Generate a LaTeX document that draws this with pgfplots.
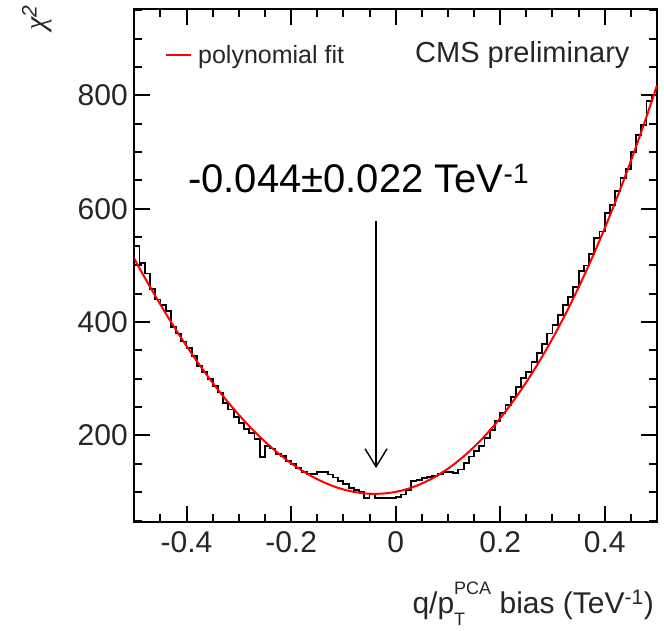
\documentclass[border=0pt]{standalone}
\usepackage{fontspec}
\setmainfont{Liberation Sans}
\usepackage{pgfplots}
\pgfplotsset{compat=1.18}
\usetikzlibrary{arrows.meta}
\begin{document}
\begin{tikzpicture}
\useasboundingbox (-134.3pt,-108pt) rectangle (529.7pt,522.2pt);
\begin{axis}[
  at={(0pt,0pt)}, anchor=south west,
  scale only axis, width=522.7pt, height=512.9pt,
  xmin=-0.5, xmax=0.5, ymin=47, ymax=952,
  axis line style={line width=2pt},
  every tick/.style={line width=2pt, black},
  major tick length=16pt, minor tick length=8pt,
  xtick={-0.6,-0.4,-0.2,0,0.2,0.4,0.6},
  minor x tick num=3,
  ytick={0,200,400,600,800,1000},
  minor y tick num=3,
  /pgf/number format/assume math mode=true,
  tick label style={font=\fontsize{30}{36}\selectfont, text=black!85},
  xticklabel style={yshift=-6pt},
  yticklabel style={xshift=-3pt},
  legend style={at={(axis description cs:0.0587,0.9105)}, anchor=west, draw=none, fill=none, inner sep=0pt, font=\fontsize{25}{30}\selectfont, text=black!85},
  legend image code/.code={\draw[#1] (0pt,0pt) -- (25pt,0pt); \path (29pt,0pt);},
]
\addplot[const plot, black, line width=1.8pt, forget plot] coordinates {
(-0.50,534) (-0.49,505) (-0.48,486) (-0.47,458) (-0.46,440) (-0.45,430) (-0.44,420) (-0.43,392) (-0.42,380) (-0.41,366)
(-0.40,355) (-0.39,340) (-0.38,322) (-0.37,312) (-0.36,300) (-0.35,288) (-0.34,276) (-0.33,258) (-0.32,246) (-0.31,232)
(-0.30,222) (-0.29,212) (-0.28,204) (-0.27,194) (-0.26,162) (-0.25,181) (-0.24,177) (-0.23,168) (-0.22,164) (-0.21,155)
(-0.20,149) (-0.19,143) (-0.18,136) (-0.17,132) (-0.16,132) (-0.15,135) (-0.14,135) (-0.13,131) (-0.12,126) (-0.11,120)
(-0.10,114) (-0.09,108) (-0.08,104) (-0.07,100) (-0.06,89) (-0.05,97) (-0.04,89) (-0.03,89) (-0.02,89) (-0.01,89)
(0.00,91) (0.01,96) (0.02,104) (0.03,119) (0.04,121) (0.05,125) (0.06,127) (0.07,129) (0.08,132) (0.09,135)
(0.10,136) (0.11,134) (0.12,140) (0.13,152) (0.14,163) (0.15,172) (0.16,182) (0.17,196) (0.18,210) (0.19,226)
(0.20,240) (0.21,254) (0.22,268) (0.23,285) (0.24,302) (0.25,312) (0.26,330) (0.27,345) (0.28,362) (0.29,380)
(0.30,395) (0.31,412) (0.32,430) (0.33,445) (0.34,462) (0.35,490) (0.36,500) (0.37,520) (0.38,548) (0.39,560)
(0.40,592) (0.41,606) (0.42,632) (0.43,655) (0.44,670) (0.45,700) (0.46,730) (0.47,748) (0.48,790) (0.49,800)
(0.50,800)
};
\addplot[red, line width=2pt] coordinates {
(-0.500,511.9) (-0.495,503.4) (-0.485,486.8) (-0.475,470.4) (-0.465,454.4) (-0.455,438.6) (-0.445,423.2) (-0.435,408.1)
(-0.425,393.3) (-0.415,378.8) (-0.405,364.7) (-0.395,350.9) (-0.385,337.4) (-0.375,324.2) (-0.365,311.4) (-0.355,298.9)
(-0.345,286.8) (-0.335,275.0) (-0.325,263.5) (-0.315,252.4) (-0.305,241.7) (-0.295,231.3) (-0.285,221.3) (-0.275,211.6)
(-0.265,202.3) (-0.255,193.4) (-0.245,184.9) (-0.235,176.7) (-0.225,168.9) (-0.215,161.5) (-0.205,154.5) (-0.195,147.9)
(-0.185,141.6) (-0.175,135.8) (-0.165,130.3) (-0.155,125.3) (-0.145,120.6) (-0.135,116.4) (-0.125,112.6) (-0.115,109.1)
(-0.105,106.1) (-0.095,103.6) (-0.085,101.4) (-0.075,99.7) (-0.065,98.4) (-0.055,97.5) (-0.045,97.1) (-0.035,97.1)
(-0.025,97.5) (-0.015,98.4) (-0.005,99.7) (0.005,101.5) (0.015,103.7) (0.025,106.4) (0.035,109.6) (0.045,113.2)
(0.055,117.3) (0.065,121.8) (0.075,126.8) (0.085,132.3) (0.095,138.3) (0.105,144.7) (0.115,151.7) (0.125,159.1)
(0.135,167.0) (0.145,175.4) (0.155,184.3) (0.165,193.7) (0.175,203.6) (0.185,214.0) (0.195,224.9) (0.205,236.3)
(0.215,248.3) (0.225,260.7) (0.235,273.7) (0.245,287.2) (0.255,301.2) (0.265,315.8) (0.275,330.9) (0.285,346.5)
(0.295,362.7) (0.305,379.4) (0.315,396.6) (0.325,414.4) (0.335,432.8) (0.345,451.7) (0.355,471.2) (0.365,491.2)
(0.375,511.8) (0.385,532.9) (0.395,554.7) (0.405,577.0) (0.415,599.8) (0.425,623.3) (0.435,647.3) (0.445,671.9)
(0.455,697.1) (0.465,722.9) (0.475,749.3) (0.485,776.3) (0.495,803.9) (0.500,818.0)
};
\addlegendentry{polynomial fit}
\node[anchor=base west, inner sep=0pt, font=\fontsize{29}{35}\selectfont, text=black!85] at (axis description cs:0.537,0.8969) {CMS preliminary};
\node[anchor=base west, inner sep=0pt, font=\fontsize{40}{48}\selectfont] at (axis description cs:0.1027,0.6434) {-0.044±0.022 TeV\textsuperscript{-1}};
\draw[-{Straight Barb[length=18pt,width=22pt]}, line width=1.4pt] (axis cs:-0.0375,579) -- (axis cs:-0.0375,142.5);
\end{axis}
\node[rotate=90, anchor=east, inner sep=0pt, font=\fontsize{30}{36}\selectfont, text=black!85] at (-97.3pt,517pt) {\fontspec{Liberation Serif}\itshape χ\textsuperscript{\fontspec{Liberation Sans}2}};
\node[anchor=base east, inner sep=0pt, font=\fontsize{30}{36}\selectfont, text=black!85] at (519.7pt,-91pt) {q/p\rlap{\raisebox{-0.42em}{\fontsize{18}{20}\selectfont T}}\raisebox{0.62em}{\fontsize{18}{20}\selectfont PCA} bias (TeV\textsuperscript{-1})};
\end{tikzpicture}
\end{document}
